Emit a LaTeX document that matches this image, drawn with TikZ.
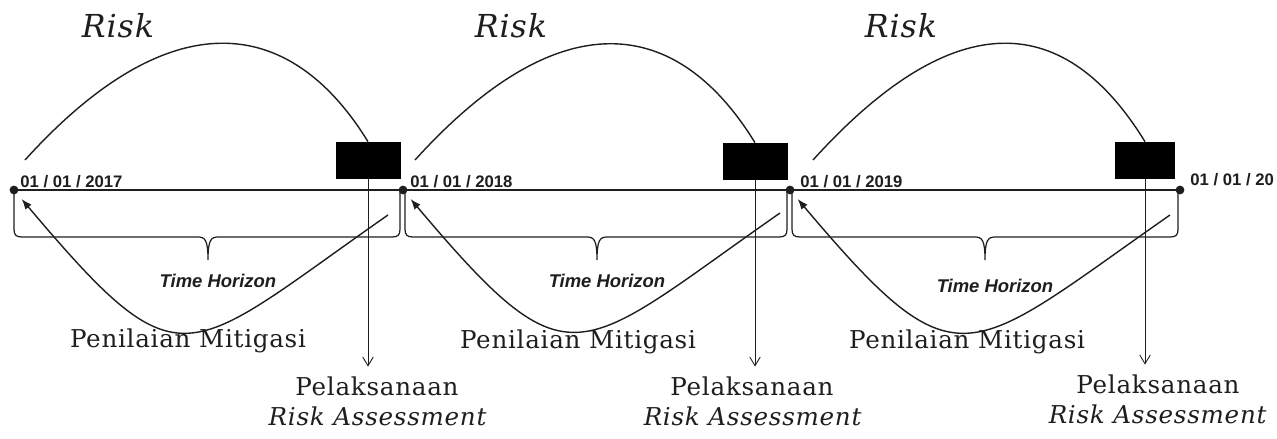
\documentclass[tikz,border=0pt]{standalone}
\usepackage{fontspec}
\setmainfont{DejaVu Serif}[LetterSpace=3]
\newfontfamily\datefont{Liberation Sans}
\usepackage{xcolor}
\usepackage{tikz}
\usetikzlibrary{arrows.meta}
\definecolor{Ink}{HTML}{1E1E1E}

\begin{document}
\begin{tikzpicture}[x=0.02cm,y=-0.02cm,
  dot/.style={circle,fill=Ink,inner sep=0pt,minimum size=5pt},
  blk/.style={fill=black,inner sep=0pt,minimum width=37pt,minimum height=21pt},
  riskc/.style={draw=Ink,line width=0.8pt},
  mit/.style={draw=Ink,line width=0.8pt,-{Latex[length=6pt,width=4.5pt]},shorten >=4pt},
  arr/.style={draw=Ink,line width=0.5pt,-{Straight Barb[length=5pt,width=6pt]},shorten >=2pt},
  brc/.style={draw=Ink,line width=0.7pt},
  ttl/.style={font=\fontsize{18}{20}\selectfont\itshape,text=Ink,anchor=base},
  dt/.style={font=\datefont\bfseries\fontsize{9.5}{11}\selectfont,text=Ink,anchor=base west,inner sep=0pt},
  th/.style={font=\datefont\bfseries\itshape\fontsize{10.5}{12}\selectfont,text=Ink,anchor=base},
  lbl/.style={font=\fontsize{14}{16}\selectfont,text=Ink,anchor=base}]
\useasboundingbox (0,0) rectangle (1277,439);

% time line
\node[dot] (d0) at (14,190) {};
\node[dot] (d1) at (403,190) {};
\node[dot] (d2) at (790,190) {};
\node[dot] (d3) at (1180,190) {};
\draw[draw=Ink,line width=1.3pt] (d0.center) -- (d3.center);
\node[dt] (t1) at (20,187) {01 / 01 / 2017};
\node[dt] (t2) at (410,187) {01 / 01 / 2018};
\node[dt] (t3) at (800,187) {01 / 01 / 2019};
\node[dt] (t4) at (1190,185) {01 / 01 / 20};

% assessment blocks
\node[blk] (b1) at (368,160.5) {};
\node[blk] (b2) at (755,161.5) {};
\node[blk,minimum width=34pt] (b3) at (1145,160.5) {};

% risk arcs
\node[ttl] (rk1) at (118,38) {Risk};
\node[ttl] (rk2) at (511,38) {Risk};
\node[ttl] (rk3) at (901,38) {Risk};
\coordinate (s1) at (25,160);
\coordinate (s2) at (415,160);
\coordinate (s3) at (813,160);
\draw[riskc] (s1) .. controls +(145,-160) and +(-78,-127) .. (b1.north);
\draw[riskc] (s2) .. controls +(145,-160) and +(-78,-127) .. (b2.north);
\draw[riskc] (s3) .. controls +(145,-160) and +(-78,-127) .. (b3.north);

% braces
\draw[brc] (14,192) -- (14,229) .. controls (14,235) and (16,237) .. (22,237) -- (198,237)
  .. controls (205,237) and (208,240) .. (208,260) .. controls (208,240) and (211,237) .. (218,237)
  -- (392,237) .. controls (398,237) and (400,235) .. (400,229) -- (400,192);
\draw[brc] (405,192) -- (405,229) .. controls (405,235) and (407,237) .. (413,237) -- (587,237)
  .. controls (594,237) and (597,240) .. (597,260) .. controls (597,240) and (600,237) .. (607,237)
  -- (779,237) .. controls (785,237) and (787,235) .. (787,229) -- (787,192);
\draw[brc] (792,192) -- (792,229) .. controls (792,235) and (794,237) .. (800,237) -- (975,237)
  .. controls (982,237) and (985,240) .. (985,260) .. controls (985,240) and (988,237) .. (995,237)
  -- (1170,237) .. controls (1176,237) and (1178,235) .. (1178,229) -- (1178,192);
\node[th] (h1) at (218,287) {Time Horizon};
\node[th] (h2) at (607,287) {Time Horizon};
\node[th] (h3) at (995,292) {Time Horizon};

% mitigation loops
\node[lbl] (p1) at (188,347) {Penilaian Mitigasi};
\node[lbl] (p2) at (578,348) {Penilaian Mitigasi};
\node[lbl] (p3) at (967,348) {Penilaian Mitigasi};
\coordinate (m1) at (388,215);
\coordinate (m2) at (780,213);
\coordinate (m3) at (1170,215);
\draw[mit] (m1) .. controls +(-205,143) and +(169,200) .. (d0);
\draw[mit] (m2) .. controls +(-205,143) and +(169,200) .. (d1);
\draw[mit] (m3) .. controls +(-205,143) and +(169,200) .. (d2);

% execution
\node[lbl] (pl1) at (377,395) {Pelaksanaan};
\node[lbl] (pl2) at (752,395) {Pelaksanaan};
\node[lbl] (pl3) at (1158,393) {Pelaksanaan};
\node[lbl] (ra1) at (378,425) {\textit{Risk Assessment}};
\node[lbl] (ra2) at (753,425) {\textit{Risk Assessment}};
\node[lbl] (ra3) at (1158,423) {\textit{Risk Assessment}};
\draw[arr] (b1.south) -- (b1.south |- pl1.north);
\draw[arr] (b2.south) -- (b2.south |- pl2.north);
\draw[arr] (b3.south) -- (b3.south |- pl3.north);
\end{tikzpicture}
\end{document}
